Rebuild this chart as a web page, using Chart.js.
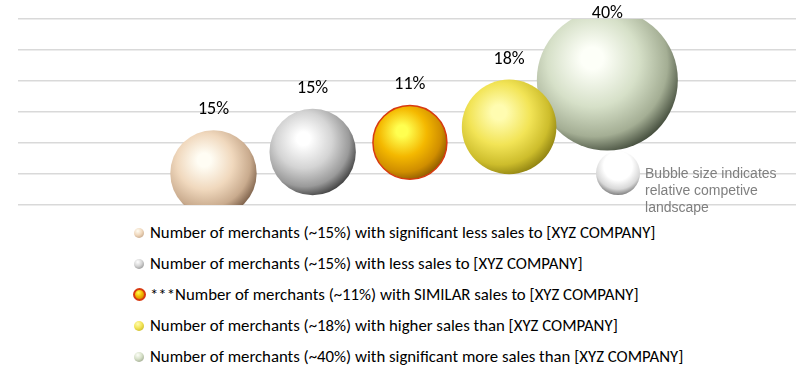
<!DOCTYPE html>
<html>
<head>
<meta charset="utf-8">
<script src="https://cdn.jsdelivr.net/npm/chart.js@4/dist/chart.umd.min.js"></script>
<style>
  html, body { margin: 0; padding: 0; background: #fff; }
  #wrap { position: relative; width: 796px; height: 369px; overflow: hidden; }
  #box { position: absolute; left: 0; top: 0; width: 796px; height: 215px; }
  #legend { position: absolute; left: 134px; top: 217px; font-family: Carlito, Lato, sans-serif; font-size: 16.8px; color: #000; }
  #legend div { height: 31px; line-height: 31px; white-space: nowrap; }
  #legend span.dot { display: inline-block; width: 10px; height: 10px; border-radius: 50%; vertical-align: middle; margin-right: 6px; position: relative; top: -1px; }
</style>
</head>
<body>
<div id="wrap">
  <div id="box"><canvas id="bubbleChart"></canvas></div>
  <div id="legend"></div>
</div>
<script>
// Chart data
const categories = [
  'Number of merchants (~15%) with significant less sales to [XYZ COMPANY]',
  'Number of merchants (~15%) with less sales to [XYZ COMPANY]',
  '***Number of merchants (~11%) with SIMILAR sales to [XYZ COMPANY]',
  'Number of merchants (~18%) with higher sales than [XYZ COMPANY]',
  'Number of merchants (~40%) with significant more sales than [XYZ COMPANY]'
];
const shares = [15, 15, 11, 18, 40];
const shareLabels = ['15%', '15%', '11%', '18%', '40%'];
const xValues = [2.01, 3.03, 4.03, 5.05, 6.06];
const yValues = [1.02, 1.71, 2.02, 2.52, 4.03];
const noteLines = ['Bubble size indicates', 'relative competive', 'landscape'];
const notePoint = [6.17, 1.03];

// sphere colours: highlight, body, shade, edge
const sphereColors = [
  ['#fffdf4', '#f0d8bd', '#c9ab8e', '#7a5e48'],
  ['#ffffff', '#d4d4d4', '#9a9a9a', '#3c3c3c'],
  ['#ffff50', '#f4b800', '#d08e00', '#8a5800'],
  ['#fffcb0', '#f2e456', '#cdbd2c', '#8c7f10'],
  ['#fdfff8', '#d6e0c8', '#a4ae94', '#3f4838']
];
const noteColors = ['#ffffff', '#ffffff', '#d8d8d8', '#808080'];
const borderColors = ['rgba(0,0,0,0)', 'rgba(0,0,0,0)', '#d83a10', 'rgba(0,0,0,0)', 'rgba(0,0,0,0)'];

function bubbleRadius(v) {
  return 11.15 * Math.sqrt(v);
}

function sphere(cols, fixedR) {
  return function(ctx) {
    const chart = ctx.chart;
    if (ctx.type !== 'data' || !chart.chartArea || !ctx.raw) return cols[1];
    const x = chart.scales.x.getPixelForValue(ctx.raw.x);
    const y = chart.scales.y.getPixelForValue(ctx.raw.y);
    const r = fixedR || bubbleRadius(ctx.raw.v);
    const g = fixedR
      ? chart.ctx.createRadialGradient(x, y - r * 0.35, 0, x, y - r * 0.3, r * 1.3)
      : chart.ctx.createRadialGradient(x - r * 0.22, y - r * 0.32, 0, x - r * 0.18, y - r * 0.22, r * 1.3);
    g.addColorStop(0, cols[0]);
    g.addColorStop(0.12, cols[0]);
    g.addColorStop(0.5, cols[1]);
    g.addColorStop(0.8, cols[2]);
    g.addColorStop(1, cols[3]);
    return g;
  };
}

const datasets = categories.map((label, i) => ({
  label: label,
  data: [{ x: xValues[i], y: yValues[i], v: shares[i] }],
  backgroundColor: sphere(sphereColors[i]),
  borderColor: borderColors[i],
  borderWidth: i === 2 ? 1.5 : 0,
  radius: ctx => bubbleRadius(shares[i]),
  dotColors: sphereColors[i]
}));

datasets.push({
  label: 'note',
  data: [{ x: notePoint[0], y: notePoint[1] }],
  backgroundColor: sphere(noteColors, 22),
  borderWidth: 0,
  radius: 22,
  isNote: true
});

// keep the bubbles inside the plot area
const clipPlugin = {
  id: 'plotClip',
  beforeDatasetsDraw(chart) {
    const a = chart.chartArea;
    chart.ctx.save();
    chart.ctx.beginPath();
    chart.ctx.rect(a.left, a.top, a.right - a.left, a.bottom - a.top);
    chart.ctx.clip();
  },
  afterDatasetsDraw(chart) {
    chart.ctx.restore();
  }
};

// labels above bubbles and note text
const labelPlugin = {
  id: 'bubbleLabels',
  afterDatasetsDraw(chart) {
    const c = chart.ctx;
    c.save();
    chart.data.datasets.forEach((ds, i) => {
      const el = chart.getDatasetMeta(i).data[0];
      if (!el) return;
      if (ds.isNote) {
        c.font = '14px "Liberation Sans", Arial, sans-serif';
        c.fillStyle = '#7f7f7f';
        c.textAlign = 'left';
        c.textBaseline = 'alphabetic';
        noteLines.forEach((t, k) => c.fillText(t, el.x + 27, el.y + 5 + k * 17));
        return;
      }
      const r = el.options.radius;
      c.font = '18px Carlito, Lato, sans-serif';
      c.fillStyle = '#000';
      c.textAlign = 'center';
      c.textBaseline = 'alphabetic';
      c.fillText(shareLabels[i], el.x, Math.max(el.y - r - 16, 18));
    });
    c.restore();
  }
};

// html legend built from the chart's datasets
const htmlLegend = {
  id: 'htmlLegend',
  afterUpdate(chart) {
    const box = document.getElementById('legend');
    box.innerHTML = '';
    chart.data.datasets.forEach(ds => {
      if (ds.isNote) return;
      const row = document.createElement('div');
      const dot = document.createElement('span');
      dot.className = 'dot';
      const cc = ds.dotColors;
      dot.style.background = 'radial-gradient(circle at 38% 30%, ' + cc[0] + ' 0%, ' + cc[1] + ' 45%, ' + cc[2] + ' 80%, ' + cc[3] + ' 110%)';
      if (ds.borderWidth) {
        dot.style.width = '9px'; dot.style.height = '9px';
        dot.style.border = '2px solid ' + ds.borderColor;
        dot.style.marginLeft = '-1px';
        dot.style.marginRight = '4px';
      }
      row.appendChild(dot);
      row.appendChild(document.createTextNode(ds.label));
      box.appendChild(row);
    });
  }
};

const config = {
  type: 'bubble',
  data: { datasets: datasets },
  options: {
    responsive: true,
    maintainAspectRatio: false,
    animation: false,
    events: [],
    layout: { autoPadding: false, padding: { left: 18, top: 19, right: 0, bottom: 10 } },
    scales: {
      x: { display: false, min: 0, max: 8 },
      y: {
        min: 0, max: 6,
        ticks: { display: false, stepSize: 1 },
        border: { display: false },
        grid: { color: '#d9d9d9', lineWidth: 1.5, drawTicks: false }
      }
    },
    plugins: {
      legend: { display: false },
      tooltip: { enabled: false }
    }
  },
  plugins: [clipPlugin, labelPlugin, htmlLegend]
};

const ctx = document.getElementById('bubbleChart').getContext('2d');
new Chart(ctx, config);
</script>
</body>
</html>
